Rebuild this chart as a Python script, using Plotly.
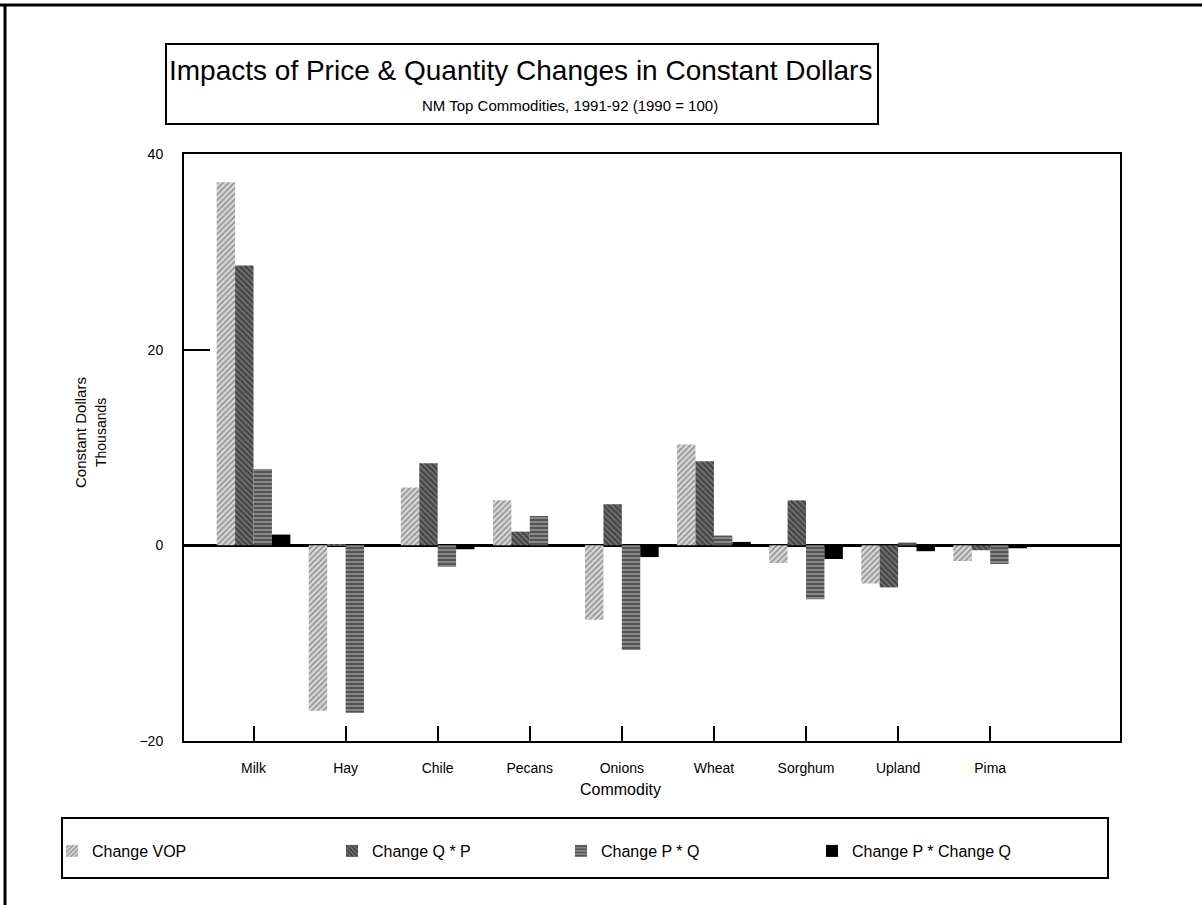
import plotly.graph_objects as go

# ---- data ----
commodities = ["Milk", "Hay", "Chile", "Pecans", "Onions", "Wheat", "Sorghum", "Upland", "Pima"]
change_vop = [37.1, -16.9, 5.9, 4.6, -7.6, 10.3, -1.8, -3.9, -1.6]
change_q_p = [28.6, 0.1, 8.4, 1.4, 4.2, 8.6, 4.6, -4.3, -0.5]
change_p_q = [7.8, -17.1, -2.2, 3.0, -10.7, 1.0, -5.5, 0.3, -1.9]
change_p_change_q = [1.1, 0.0, -0.4, -0.1, -1.2, 0.35, -1.4, -0.6, -0.3]
y_ticks = [-20, 0, 20, 40]
series_names = ["Change VOP", "Change Q * P", "Change P * Q", "Change P * Change Q"]

# ---- layout geometry (pixels) ----
W, H = 1202, 905
L, R, T, B = 184, 82, 154, 164
PW = W - L - R
PH = H - T - B
FONT = "Liberation Sans, Arial, sans-serif"


def px(x):
    return (x - L) / PW


def py(y):
    return (H - B - y) / PH


fig = go.Figure()
styles = [
    dict(pattern=dict(shape="/", bgcolor="#d6d6d6", fgcolor="#3a3a3a", size=4, solidity=0.35)),
    dict(pattern=dict(shape="\\", bgcolor="#707070", fgcolor="#111111", size=4, solidity=0.5)),
    dict(pattern=dict(shape="-", bgcolor="#8c8c8c", fgcolor="#1a1a1a", size=4, solidity=0.55)),
    dict(color="#000000"),
]
series = [change_vop, change_q_p, change_p_q, change_p_change_q]
legend_ids = ["legend", "legend2", "legend3", "legend4"]
for name, vals, st, lg in zip(series_names, series, styles, legend_ids):
    marker = dict(line=dict(width=0))
    if "pattern" in st:
        marker["color"] = st["pattern"]["bgcolor"]
        marker["pattern"] = st["pattern"]
    else:
        marker["color"] = st["color"]
    fig.add_trace(go.Bar(x=commodities, y=vals, name=name, marker=marker, legend=lg))

legend_text_x = [92, 372, 601, 852]
leg_common = dict(orientation="h", xanchor="left", yanchor="middle", bgcolor="rgba(0,0,0,0)",
                  font=dict(family=FONT, size=16, color="#000"), itemwidth=30)
legends = {}
for lg, tx in zip(legend_ids, legend_text_x):
    legends[lg] = dict(leg_common, x=px(tx - 40), y=py(851))

shapes = [
    # page border (left and top)
    dict(type="line", xref="paper", yref="paper", x0=px(5), x1=px(5), y0=py(5), y1=py(905), line=dict(color="#000", width=3)),
    dict(type="line", xref="paper", yref="paper", x0=px(0), x1=px(1202), y0=py(5), y1=py(5), line=dict(color="#000", width=3)),
    # title box
    dict(type="rect", xref="paper", yref="paper", x0=px(166), x1=px(878), y0=py(124), y1=py(44), line=dict(color="#000", width=2)),
    # legend box
    dict(type="rect", xref="paper", yref="paper", x0=px(62), x1=px(1108), y0=py(878), y1=py(818), line=dict(color="#000", width=2)),
]

annotations = [
    dict(text="Impacts of Price &amp; Quantity Changes in Constant Dollars", x=px(520), y=py(70), xref="paper", yref="paper",
         showarrow=False, font=dict(family=FONT, size=28, color="#000"), xanchor="center", yanchor="middle"),
    dict(text="NM Top Commodities, 1991-92 (1990 = 100)", x=px(570), y=py(105), xref="paper", yref="paper",
         showarrow=False, font=dict(family=FONT, size=15, color="#000"), xanchor="center", yanchor="middle"),
    dict(text="Constant Dollars", x=px(80), y=py(433), xref="paper", yref="paper", textangle=-90,
         showarrow=False, font=dict(family=FONT, size=15, color="#000"), xanchor="center", yanchor="middle"),
    dict(text="Thousands", x=px(101), y=py(433), xref="paper", yref="paper", textangle=-90,
         showarrow=False, font=dict(family=FONT, size=14, color="#000"), xanchor="center", yanchor="middle"),
    dict(text="Commodity", x=px(620), y=py(789), xref="paper", yref="paper",
         showarrow=False, font=dict(family=FONT, size=16, color="#000"), xanchor="center", yanchor="middle"),
]

fig.update_layout(
    width=W, height=H,
    margin=dict(l=L, r=R, t=T, b=B, pad=0),
    paper_bgcolor="#ffffff", plot_bgcolor="#ffffff",
    barmode="group", bargap=0.2, bargroupgap=0,
    font=dict(family=FONT, size=14, color="#000"),
    shapes=shapes, annotations=annotations,
    showlegend=True,
    **legends,
)
fig.update_xaxes(
    type="category", categoryorder="array", categoryarray=commodities,
    range=[-0.755, 9.41], showline=True, linecolor="#000", linewidth=2, mirror=True,
    ticks="inside", ticklen=15, tickwidth=2, tickcolor="#000",
    showgrid=False, zeroline=False, tickfont=dict(family=FONT, size=14),
    ticklabelstandoff=13,
)
fig.update_yaxes(
    range=[-20, 40], tickvals=y_ticks, showline=True, linecolor="#000", linewidth=2, mirror=True,
    ticks="inside", ticklen=26, tickwidth=2, tickcolor="#000",
    showgrid=False, zeroline=True, zerolinecolor="#000", zerolinewidth=3,
    tickfont=dict(family=FONT, size=14), ticklabelstandoff=16,
)

fig.write_html("out.html", config={"displayModeBar": False},
               post_script="document.body.style.margin='0';document.body.style.overflow='hidden';")
